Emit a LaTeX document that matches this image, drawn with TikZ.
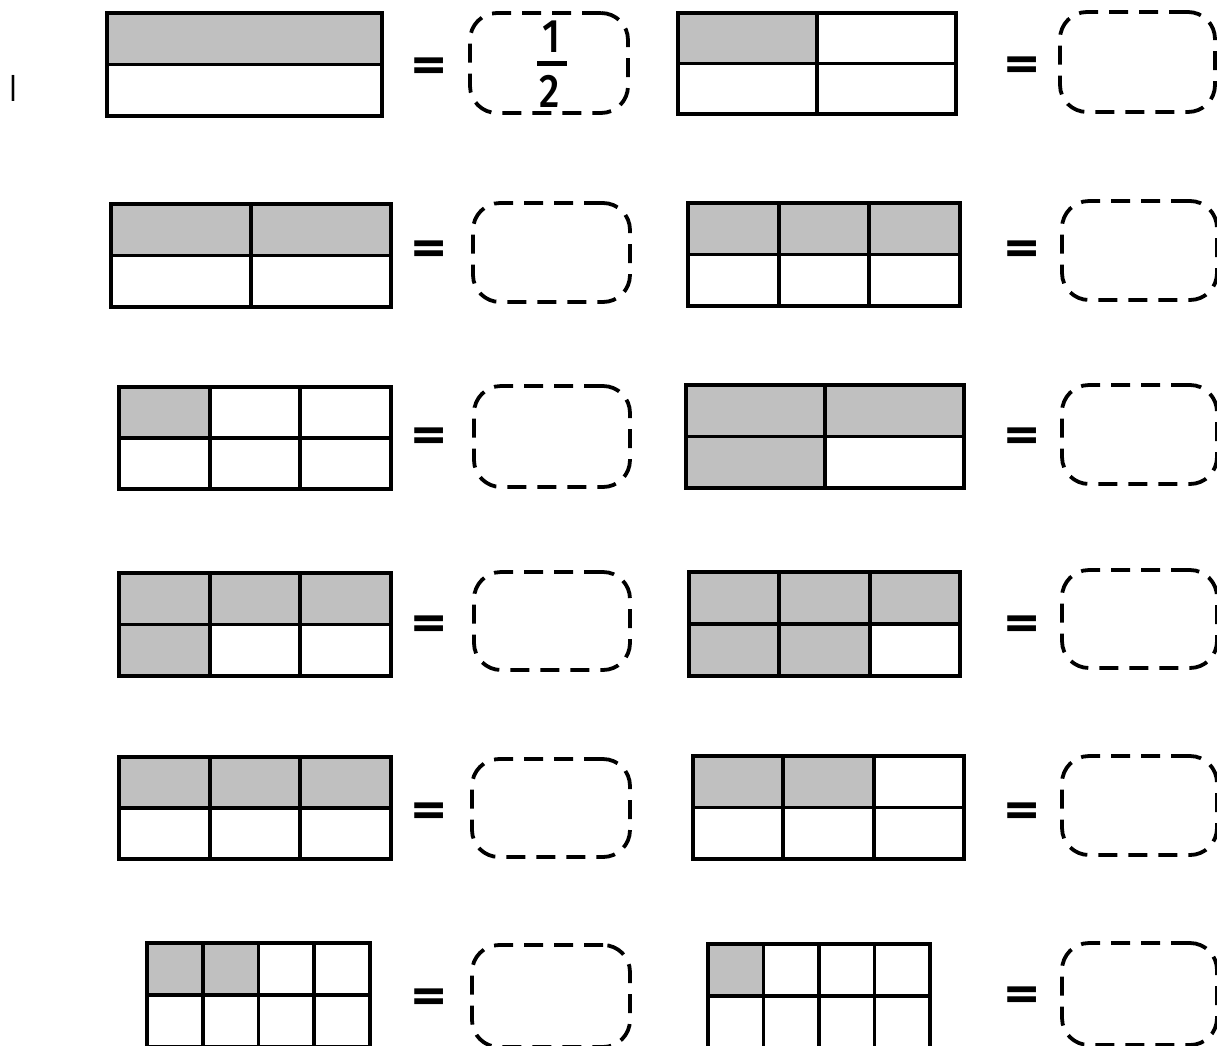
\documentclass[tikz,border=0pt]{standalone}
\usepackage{fontspec}
\setmainfont{Fira Sans}
\definecolor{shadegray}{HTML}{C0C0C0}
\newcommand\fracpanel[6]{%
  \pgfmathsetmacro\pw{(#3-#1)/#5}%
  \pgfmathsetmacro\ph{(#4-#2)/2}%
  \foreach \c/\r in {#6}{\fill[shadegray] ({#1+\c*\pw},{#2+\r*\ph}) rectangle ++(\pw,\ph);}%
  \draw[gridline] (#1,#2) rectangle (#3,#4);%
  \draw[gridline] (#1,{#2+\ph}) -- (#3,{#2+\ph});%
  \foreach \k in {1,2,3}{\ifnum\k<#5 \draw[gridline] ({#1+\k*\pw},#2) -- ({#1+\k*\pw},#4);\fi}%
}
\begin{document}
\begin{tikzpicture}[x=1pt,y=-1pt,
  gridline/.style={line width=3.8pt},
  answer/.style={draw, line width=3.8pt, dash pattern=on 19pt off 11pt, rounded corners=27pt, inner sep=0pt},
  eqsign/.style={inner sep=0pt, font=\fontsize{68}{68}\selectfont\bfseries},
  digit/.style={inner sep=0pt, font=\fontsize{47}{47}\selectfont\fontspec{Fira Sans Medium}},
  fracbar/.style={line width=4.5pt}]
\useasboundingbox (0,0) rectangle (1217,1045);
\fill[white] (0,0) rectangle (1217,1045);

\node[inner sep=0pt, font=\fontsize{27}{27}\selectfont] (mark) at (13,88.5) {\scalebox{1}[1.4]{I}};

% row 1
\fracpanel{107}{13}{382}{116}{1}{0/0}
\fracpanel{678}{13}{956}{114}{2}{0/0}
% row 2
\fracpanel{111}{204}{391}{307}{2}{0/0,1/0}
\fracpanel{688}{203}{960}{306}{3}{0/0,1/0,2/0}
% row 3
\fracpanel{119}{387}{391}{489}{3}{0/0}
\fracpanel{686}{385}{964}{488}{2}{0/0,1/0,0/1}
% row 4
\fracpanel{119}{573}{391}{676}{3}{0/0,1/0,2/0,0/1}
\fracpanel{689}{572}{960}{676}{3}{0/0,1/0,2/0,0/1,1/1}
% row 5
\fracpanel{119}{757}{391}{859}{3}{0/0,1/0,2/0}
\fracpanel{693}{756}{964}{859}{3}{0/0,1/0}
% row 6
\fracpanel{147}{943}{370}{1047}{4}{0/0,1/0}
\fracpanel{708}{944}{930}{1048}{4}{0/0}

% equals signs
\foreach \n/\x/\y in {L1/429/70,R1/1022/69,L2/429/253,R2/1022/253,L3/429/440,R3/1022/440,L4/429/628,R4/1022/628,L5/429/815,R5/1022/815,L6/429/1001,R6/1022/999}
  \node[eqsign] (e\n) at (\x,\y) {\scalebox{1}[0.7]{=}};

% answer boxes
\node[answer, minimum width=158pt, minimum height=100pt] (aL1) at (549,63) {};
\node[answer, minimum width=155pt, minimum height=100pt] (aR1) at (1137.5,62) {};
\node[answer, minimum width=157pt, minimum height=99pt] (aL2) at (551.5,252.5) {};
\node[answer, minimum width=155pt, minimum height=99pt] (aR2) at (1139.5,250.5) {};
\node[answer, minimum width=156pt, minimum height=101pt] (aL3) at (552,436.5) {};
\node[answer, minimum width=155pt, minimum height=99pt] (aR3) at (1139.5,434.5) {};
\node[answer, minimum width=156pt, minimum height=98pt] (aL4) at (552,621) {};
\node[answer, minimum width=155pt, minimum height=98pt] (aR4) at (1139.5,619) {};
\node[answer, minimum width=158pt, minimum height=98pt] (aL5) at (551,808) {};
\node[answer, minimum width=155pt, minimum height=99pt] (aR5) at (1139.5,805.5) {};
\node[answer, minimum width=158pt, minimum height=102pt] (aL6) at (551,996) {};
\node[answer, minimum width=155pt, minimum height=102pt] (aR6) at (1139.5,994) {};

% fraction 1/2
\node[digit] (num) at (551,37) {\scalebox{0.85}[1]{1}};
\node[digit] (den) at (550,91) {\scalebox{0.85}[1]{2}};
\coordinate (barL) at (537,63.5);
\coordinate (barR) at (567,63.5);
\draw[fracbar] (barL) -- (barR);
\end{tikzpicture}
\end{document}
